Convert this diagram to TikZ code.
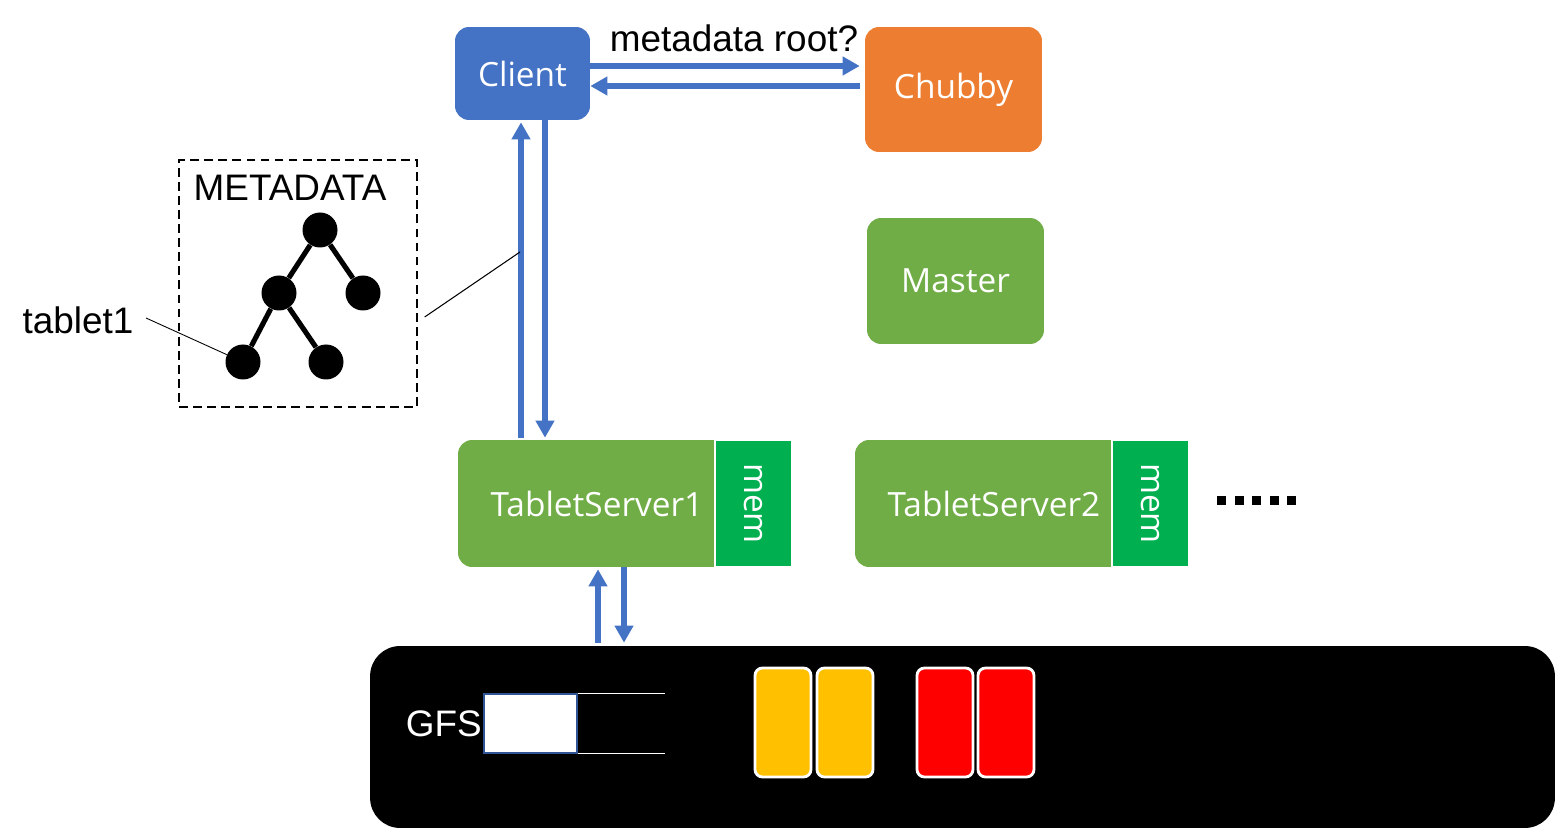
\documentclass[tikz,border=0pt]{standalone}
\usepackage{fontspec}
\setmainfont{Liberation Sans}
\newfontfamily\boxfont{Open Sans}
\usetikzlibrary{arrows.meta}

\definecolor{clientblue}{HTML}{4472C4}
\definecolor{chubbyorange}{HTML}{ED7D31}
\definecolor{servergreen}{HTML}{70AD47}
\definecolor{memgreen}{HTML}{00B050}
\definecolor{chunkyellow}{HTML}{FFC000}
\definecolor{gfsedge}{HTML}{2F5597}

\begin{document}
\begin{tikzpicture}[x=0.02cm, y=-0.02cm]
			\tikzstyle{box}    = [rounded corners=0.28cm, inner sep=0pt, text=white, font=\boxfont\fontsize{19pt}{23pt}\selectfont]
			\tikzstyle{membox} = [box, rounded corners=0pt, fill=memgreen, draw=white, line width=0.8pt, minimum width=1.54cm, minimum height=2.54cm]
			\tikzstyle{label}  = [inner sep=0pt, font=\fontsize{21pt}{25pt}\selectfont]
			\tikzstyle{arr}    = [draw=clientblue, line width=2.9pt, -{Triangle[length=0.34cm, width=0.36cm]}]
			\tikzstyle{leaf}   = [circle, fill=black, minimum size=0.7cm, inner sep=0pt]
			\tikzstyle{chunk}  = [rounded corners=0.15cm, draw=white, line width=1.6pt]

			\useasboundingbox (0,0) rectangle (1558,830);

%			\draw[step=1cm, gray!50] (0,0) grid (1558,830);

			% top row
			\node[box, fill=clientblue, minimum width=2.7cm, minimum height=1.86cm] (client) at (522.5,73.5) {Client};
			\node[box, fill=chubbyorange, minimum width=3.54cm, minimum height=2.5cm] (chubby) at (953.5,89.5) {Chubby};
			\node[box, fill=servergreen, minimum width=3.54cm, minimum height=2.52cm] (master) at (955.5,281) {Master};

			% tablet servers
			\node[box, fill=servergreen, minimum width=5.56cm, minimum height=2.54cm] (ts1) at (597,503.5) {TabletServer1};
			\node[membox] (mem1) at (753.5,503.5) {\rotatebox{-90}{mem}};
			\node[box, fill=servergreen, minimum width=5.56cm, minimum height=2.54cm] (ts2) at (994,503.5) {TabletServer2};
			\node[membox] (mem2) at (1150.5,503.5) {\rotatebox{-90}{mem}};
			\foreach \i in {0,...,4}
				\fill (1217+17.5*\i,496) rectangle +(9,9);

			% GFS
			\node[fill=black, rounded corners=0.6cm, minimum width=23.7cm, minimum height=3.64cm, inner sep=0pt] (gfs) at (962.5,737) {};
			\node[label, text=white, anchor=east] (gfslabel) at (482,724) {GFS};
			\node[fill=white, draw=gfsedge, line width=0.6pt, minimum width=1.86cm, minimum height=1.18cm, inner sep=0pt] (file) at (530.5,723.5) {};
			\draw[white, line width=0.6pt] (file.north east) -- +(87,0) (file.south east) -- +(87,0);
			\foreach \x/\c in {755/chunkyellow, 817/chunkyellow, 917/red, 978/red}
				\filldraw[chunk, fill=\c] (\x,668) rectangle +(56,109);

			% metadata
			\node[draw, dashed, dash pattern=on 5pt off 3pt, line width=0.8pt, minimum width=4.76cm, minimum height=4.94cm, inner sep=0pt] (meta) at (298,283.5) {};
			\node[label] (metatitle) at (290,188) {METADATA};

			\foreach \name/\x/\y in {t0/320/230, t1/279/293, t2/363/293, t3/243/362, t4/326/362}
				\node[leaf] (\name) at (\x,\y) {};

			\foreach \from/\to in {t0/t1, t0/t2, t1/t3, t1/t4}
				\draw[line width=2.9pt] (\from) -- (\to);

			\node[label] (tablet) at (78,320) {tablet1};
			\draw[line width=0.5pt] (146,318) -- (t3);

			% requests
			\draw[arr] (client.east |- 0,66) -- ([xshift=-0.1cm]chubby.west |- 0,66);
			\draw[arr] ([xshift=-0.1cm]chubby.west |- 0,86) -- (client.east |- 0,86);
			\node[label, anchor=south] (askroot) at (734,52) {metadata root?};

			\draw[arr] ([yshift=0.04cm]ts1.north -| 521,0) -- ([yshift=-0.04cm]client.south -| 521,0);
			\draw[arr] (client.south -| 545,0) -- ([yshift=0.04cm]ts1.north -| 545,0);
			\draw[arr] ([yshift=0.06cm]gfs.north -| 598,0) -- ([yshift=-0.04cm]ts1.south -| 598,0);
			\draw[arr] (ts1.south -| 624,0) -- ([yshift=0.06cm]gfs.north -| 624,0);

			\coordinate (tap) at (520,252);
			\draw[line width=0.6pt] ([xshift=0.14cm]meta.east |- 0,317) -- (tap);

		\end{tikzpicture}
\end{document}
